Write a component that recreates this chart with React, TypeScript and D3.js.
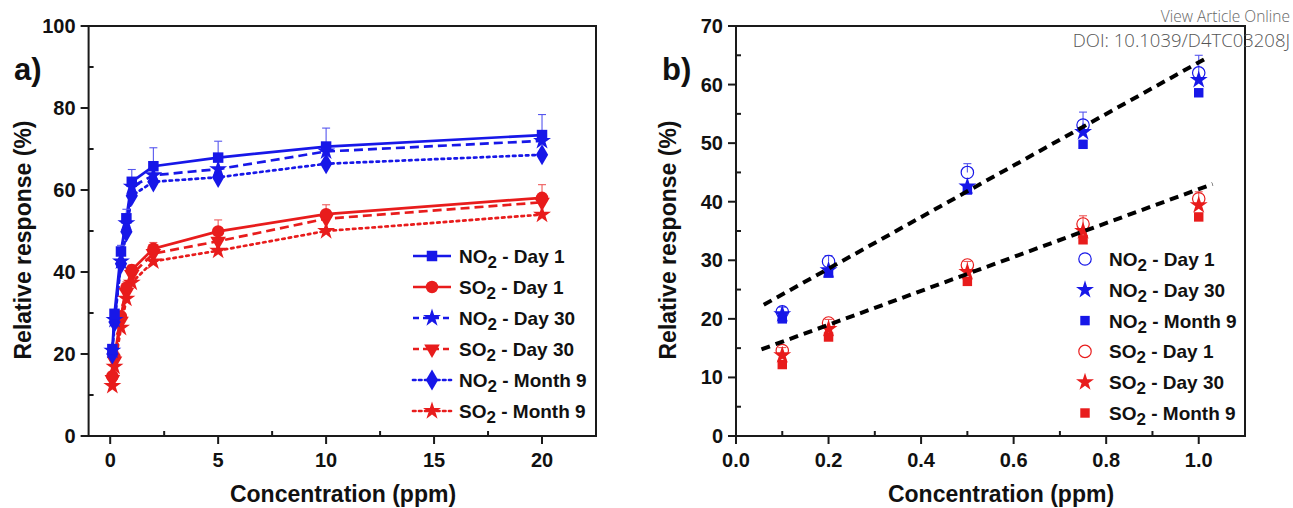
import React from "react";
import * as d3 from "d3";

// ---------- data ----------
const concA = [0.1, 0.2, 0.5, 0.75, 1, 2, 5, 10, 20];
const no2Day1 = [21.2, 29.8, 45.0, 53.1, 62.0, 65.8, 67.9, 70.6, 73.4];
const no2Day30 = [20.8, 28.3, 42.6, 51.9, 60.8, 63.6, 65.1, 69.4, 72.0];
const no2Month9 = [20.0, 27.8, 42.0, 49.8, 58.6, 62.0, 63.1, 66.4, 68.6];
const so2Day1 = [14.6, 19.3, 29.2, 36.2, 40.5, 45.7, 49.9, 54.1, 58.1];
const so2Day30 = [13.8, 18.3, 28.0, 35.0, 39.4, 44.5, 47.5, 53.0, 57.0];
const so2Month9 = [12.2, 16.9, 26.4, 33.5, 37.4, 42.6, 45.2, 50.0, 54.0];
const no2Day1Err = [0.8, 1.0, 1.5, 2.2, 3.0, 4.5, 4.0, 4.5, 5.0];
const so2Day1Err = [0.5, 0.6, 0.6, 1.4, 1.2, 1.5, 2.8, 2.3, 3.2];

const concB = [0.1, 0.2, 0.5, 0.75, 1.0];
const fitRangeNO2 = [0.06, 1.02];
const fitRangeSO2 = [0.055, 1.03];

const xTicksA = [0, 5, 10, 15, 20];
const xMinorA = [2.5, 7.5, 12.5, 17.5];
const yTicksA = [0, 20, 40, 60, 80, 100];
const yMinorA = [10, 30, 50, 70, 90];
const xTicksB = [0, 0.2, 0.4, 0.6, 0.8, 1.0];
const xMinorB = [0.1, 0.3, 0.5, 0.7, 0.9];
const yTicksB = [0, 10, 20, 30, 40, 50, 60, 70];
const yMinorB = [5, 15, 25, 35, 45, 55, 65];

// ---------- styles ----------
const BLUE = "#1717e8";
const RED = "#e81c1c";
const BLUE_ERR = "#5656ee";
const RED_ERR = "#ee5a5a";
const AXIS = "#1a1a1a";
const FONT = "Arial, 'Liberation Sans', Helvetica, sans-serif";

const W = 1293;
const H = 508;

const xA = d3.scaleLinear().domain([-1, 22.5]).range([88.6, 596]);
const yA = d3.scaleLinear().domain([0, 100]).range([436, 26]);
const xB = d3.scaleLinear().domain([0, 1.1]).range([736, 1245]);
const yB = d3.scaleLinear().domain([0, 70]).range([436, 26]);

type MarkerType = "square" | "circle" | "star" | "triDown" | "diamond" | "ocircle";

function Marker({ type, x, y, color, s = 1 }: { type: MarkerType; x: number; y: number; color: string; s?: number }) {
  if (type === "circle") return <circle cx={x} cy={y} r={6.2 * s} fill={color} />;
  if (type === "ocircle") return <circle cx={x} cy={y} r={6.2 * s} fill="none" stroke={color} strokeWidth={1.2} />;
  let sym: any = d3.symbolSquare;
  let size = 100;
  let rot = 0;
  if (type === "square") { sym = d3.symbolSquare; size = 110; }
  if (type === "star") { sym = d3.symbolStar; size = 100; }
  if (type === "triDown") { sym = d3.symbolTriangle; size = 105; rot = 180; }
  if (type === "diamond") { sym = d3.symbolDiamond; size = 130; }
  const p = d3.symbol().type(sym).size(size * s * s)() as string;
  return <path d={p} transform={`translate(${x},${y}) rotate(${rot})`} fill={color} />;
}

interface SeriesA { name: string; gas: string; label: string; values: number[]; color: string; dash: string; marker: MarkerType; err?: number[]; errColor?: string; }

const seriesA: SeriesA[] = [
  { name: "so2m9", gas: "SO", label: " - Month 9", values: so2Month9, color: RED, dash: "2.5,4", marker: "star" },
  { name: "so2d30", gas: "SO", label: " - Day 30", values: so2Day30, color: RED, dash: "9,5", marker: "triDown" },
  { name: "so2d1", gas: "SO", label: " - Day 1", values: so2Day1, color: RED, dash: "", marker: "circle", err: so2Day1Err, errColor: RED_ERR },
  { name: "no2m9", gas: "NO", label: " - Month 9", values: no2Month9, color: BLUE, dash: "2.5,4", marker: "diamond" },
  { name: "no2d30", gas: "NO", label: " - Day 30", values: no2Day30, color: BLUE, dash: "9,5", marker: "star" },
  { name: "no2d1", gas: "NO", label: " - Day 1", values: no2Day1, color: BLUE, dash: "", marker: "square", err: no2Day1Err, errColor: BLUE_ERR },
];
const legendOrderA = ["no2d1", "so2d1", "no2d30", "so2d30", "no2m9", "so2m9"];

interface SeriesB { name: string; gas: string; label: string; values: number[]; color: string; marker: MarkerType; err?: number[]; errColor?: string; }
const seriesB: SeriesB[] = [
  { name: "no2m9", gas: "NO", label: " - Month 9", values: no2Month9.slice(0, concB.length), color: BLUE, marker: "square" },
  { name: "no2d30", gas: "NO", label: " - Day 30", values: no2Day30.slice(0, concB.length), color: BLUE, marker: "star" },
  { name: "no2d1", gas: "NO", label: " - Day 1", values: no2Day1.slice(0, concB.length), color: BLUE, marker: "ocircle", err: no2Day1Err.slice(0, concB.length), errColor: BLUE_ERR },
  { name: "so2m9", gas: "SO", label: " - Month 9", values: so2Month9.slice(0, concB.length), color: RED, marker: "square" },
  { name: "so2d30", gas: "SO", label: " - Day 30", values: so2Day30.slice(0, concB.length), color: RED, marker: "star" },
  { name: "so2d1", gas: "SO", label: " - Day 1", values: so2Day1.slice(0, concB.length), color: RED, marker: "ocircle", err: so2Day1Err.slice(0, concB.length), errColor: RED_ERR },
];
const legendOrderB = ["no2d1", "no2d30", "no2m9", "so2d1", "so2d30", "so2m9"];

function linReg(xs: number[], ys: number[]) {
  const mx = d3.mean(xs) as number;
  const my = d3.mean(ys) as number;
  let sxy = 0, sxx = 0;
  xs.forEach((x, i) => { sxy += (x - mx) * (ys[i] - my); sxx += (x - mx) * (x - mx); });
  const slope = sxy / sxx;
  return { slope, intercept: my - slope * mx };
}

function Axes({ x, y, xt, xm, yt, ym, xfmt }: any) {
  const [x0, x1] = x.range();
  const [y0, y1] = y.range();
  return (
    <g>
      <rect x={x0} y={y1} width={x1 - x0} height={y0 - y1} fill="none" stroke={AXIS} strokeWidth={2} />
      {xt.map((t: number) => (
        <g key={"xt" + t}>
          <line x1={x(t)} x2={x(t)} y1={y0} y2={y0 + 8} stroke={AXIS} strokeWidth={2} />
          <text x={x(t)} y={y0 + 31} textAnchor="middle" fontFamily={FONT} fontWeight="bold" fontSize={20} fill="#111">{xfmt(t)}</text>
        </g>
      ))}
      {xm.map((t: number) => (
        <line key={"xm" + t} x1={x(t)} x2={x(t)} y1={y0} y2={y0 - 5} stroke={AXIS} strokeWidth={2} />
      ))}
      {yt.map((t: number) => (
        <g key={"yt" + t}>
          <line x1={x0} x2={x0 - 8} y1={y(t)} y2={y(t)} stroke={AXIS} strokeWidth={2} />
          <text x={x0 - 13} y={y(t) + 7} textAnchor="end" fontFamily={FONT} fontWeight="bold" fontSize={20} fill="#111">{t}</text>
        </g>
      ))}
      {ym.map((t: number) => (
        <line key={"ym" + t} x1={x0} x2={x0 + 5} y1={y(t)} y2={y(t)} stroke={AXIS} strokeWidth={2} />
      ))}
    </g>
  );
}

function LegendText({ x, y, gas, label }: { x: number; y: number; gas: string; label: string }) {
  return (
    <text x={x} y={y + 7} fontFamily={FONT} fontWeight="bold" fontSize={19} fill="#111">
      {gas}
      <tspan dy={5} fontSize={17}>2</tspan>
      <tspan dy={-5}>{label}</tspan>
    </text>
  );
}

export default function App() {
  const lineA = (vals: number[]) =>
    d3.line<number>().x((_, i) => xA(concA[i])).y((v) => yA(v))(vals) as string;

  const regNO2 = linReg(concB, no2Day1.slice(0, concB.length));
  const regSO2 = linReg(concB, so2Day1.slice(0, concB.length));
  const fitLine = (r: { slope: number; intercept: number }, rng: number[]) =>
    d3.line<number>().x((c) => xB(c)).y((c) => yB(r.intercept + r.slope * c))(rng) as string;

  const legA = legendOrderA.map((n) => seriesA.find((s) => s.name === n)!);
  const legB = legendOrderB.map((n) => seriesB.find((s) => s.name === n)!);

  return (
    <svg width={W} height={H} style={{ position: "absolute", left: 0, top: 0, background: "#fff" }}>
      {/* ---------------- Panel a ---------------- */}
      <text x={14} y={80} fontFamily={FONT} fontWeight="bold" fontSize={31} fill="#111">a)</text>
      <text transform={`translate(31,240) rotate(-90)`} textAnchor="middle" fontFamily={FONT} fontWeight="bold" fontSize={23} fill="#111">Relative response (%)</text>
      <text x={343} y={502} textAnchor="middle" fontFamily={FONT} fontWeight="bold" fontSize={23} fill="#111">Concentration (ppm)</text>
      <Axes x={xA} y={yA} xt={xTicksA} xm={xMinorA} yt={yTicksA} ym={yMinorA} xfmt={(t: number) => String(t)} />
      <g>
        {seriesA.map((s) => (
          <path key={"l" + s.name} d={lineA(s.values)} fill="none" stroke={s.color} strokeWidth={2.7} strokeDasharray={s.dash || undefined} strokeLinecap={s.dash.startsWith("2.5") ? "round" : "butt"} />
        ))}
        {seriesA.filter((s) => s.err).map((s) =>
          s.values.map((v, i) => (
            <g key={"e" + s.name + i}>
              <line x1={xA(concA[i])} x2={xA(concA[i])} y1={yA(v)} y2={yA(v + s.err![i])} stroke={s.errColor} strokeWidth={1.1} />
              <line x1={xA(concA[i]) - 4} x2={xA(concA[i]) + 4} y1={yA(v + s.err![i])} y2={yA(v + s.err![i])} stroke={s.errColor} strokeWidth={1.1} />
            </g>
          ))
        )}
        {seriesA.map((s) =>
          s.values.map((v, i) => <Marker key={"m" + s.name + i} type={s.marker} x={xA(concA[i])} y={yA(v)} color={s.color} />)
        )}
      </g>
      <g>
        {legA.map((s, i) => {
          const ly = 256 + i * 31;
          return (
            <g key={"lg" + s.name}>
              <line x1={413} x2={451} y1={ly} y2={ly} stroke={s.color} strokeWidth={2.7} strokeDasharray={s.dash ? (s.dash.startsWith("2.5") ? "2.5,3.5" : "6,4") : undefined} strokeLinecap={s.dash.startsWith("2.5") ? "round" : "butt"} />
              <Marker type={s.marker} x={432} y={ly} color={s.color} />
              <LegendText x={459} y={ly} gas={s.gas} label={s.label} />
            </g>
          );
        })}
      </g>

      {/* ---------------- Panel b ---------------- */}
      <text x={662} y={80} fontFamily={FONT} fontWeight="bold" fontSize={31} fill="#111">b)</text>
      <text transform={`translate(676,240) rotate(-90)`} textAnchor="middle" fontFamily={FONT} fontWeight="bold" fontSize={23} fill="#111">Relative response (%)</text>
      <text x={1001} y={502} textAnchor="middle" fontFamily={FONT} fontWeight="bold" fontSize={23} fill="#111">Concentration (ppm)</text>
      <Axes x={xB} y={yB} xt={xTicksB} xm={xMinorB} yt={yTicksB} ym={yMinorB} xfmt={(t: number) => t.toFixed(1)} />
      <g>
        {seriesB.filter((s) => s.err).map((s) =>
          s.values.map((v, i) => (
            <g key={"eb" + s.name + i}>
              <line x1={xB(concB[i])} x2={xB(concB[i])} y1={yB(v)} y2={yB(v + s.err![i])} stroke={s.errColor} strokeWidth={1.1} />
              <line x1={xB(concB[i]) - 4} x2={xB(concB[i]) + 4} y1={yB(v + s.err![i])} y2={yB(v + s.err![i])} stroke={s.errColor} strokeWidth={1.1} />
            </g>
          ))
        )}
        {seriesB.map((s) =>
          s.values.map((v, i) => <Marker key={"mb" + s.name + i} type={s.marker} x={xB(concB[i])} y={yB(v)} color={s.color} s={s.marker === "square" ? 0.9 : 1} />)
        )}
        <path d={fitLine(regNO2, fitRangeNO2)} fill="none" stroke="#000" strokeWidth={4} strokeDasharray="9,6" />
        <path d={fitLine(regSO2, fitRangeSO2)} fill="none" stroke="#000" strokeWidth={4} strokeDasharray="9,6" />
      </g>
      <g>
        {legB.map((s, i) => {
          const ly = 259 + i * 30.8;
          return (
            <g key={"lgb" + s.name}>
              <Marker type={s.marker} x={1085} y={ly} color={s.color} s={s.marker === "square" ? 0.9 : 1} />
              <LegendText x={1109} y={ly} gas={s.gas} label={s.label} />
            </g>
          );
        })}
      </g>

      {/* watermark */}
      <text x={1290} y={22} textAnchor="end" fontFamily="'Open Sans', sans-serif" fontWeight={300} fontSize={15.5} fill="#666">View Article Online</text>
      <text x={1290} y={47} textAnchor="end" fontFamily="'Open Sans', sans-serif" fontWeight={300} fontSize={18.5} fill="#555">DOI: 10.1039/D4TC03208J</text>
    </svg>
  );
}
